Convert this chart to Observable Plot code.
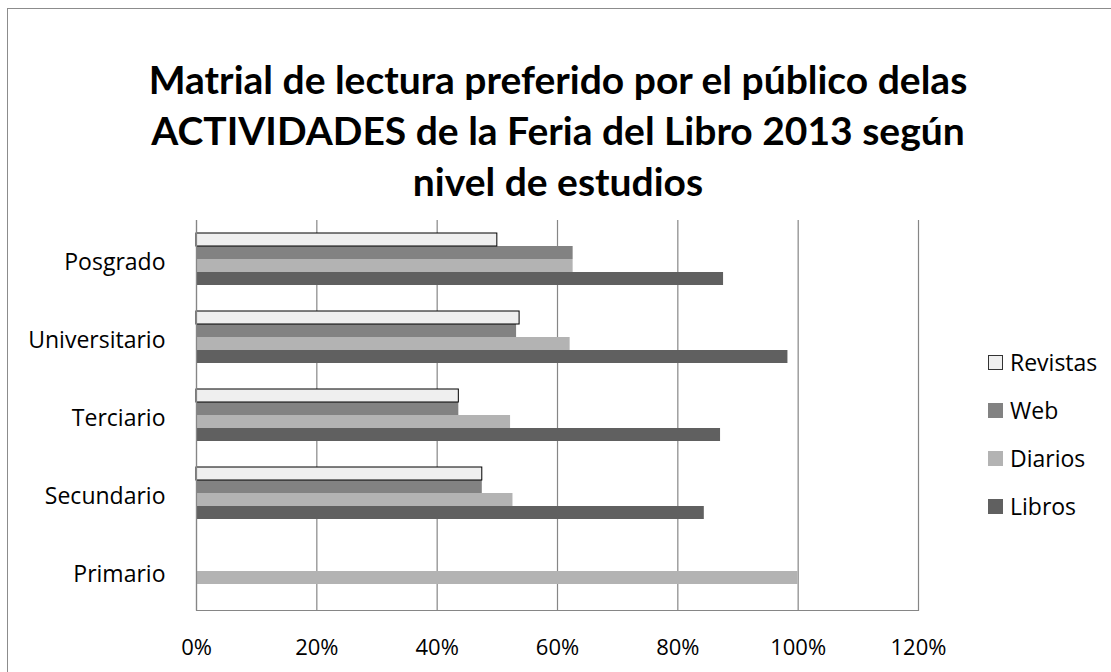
<!DOCTYPE html>
<html>
<head>
<meta charset="utf-8">
<script src="https://cdn.jsdelivr.net/npm/d3@7"></script>
<script src="https://cdn.jsdelivr.net/npm/@observablehq/plot@0.6"></script>
<style>
  html, body { margin: 0; padding: 0; background: #fff; }
  #wrap { position: relative; width: 1111px; height: 672px; overflow: hidden; background: #fff; }
  #border { position: absolute; left: 7px; top: 8px; width: 1200px; height: 800px; border: 1.5px solid #8c8c8c; box-sizing: border-box; }
  #title { position: absolute; left: 0; top: 54px; width: 1116px; text-align: center;
           font-family: Lato, sans-serif; font-weight: bold; font-size: 39px; line-height: 51px; color: #000; white-space: nowrap; }
  #chart { position: absolute; left: 0; top: 0; }
  #legend { position: absolute; left: 988px; top: 338px; font-family: "Open Sans", sans-serif; font-size: 23px; color: #000; }
  .item { display: flex; align-items: center; height: 48px; }
  .sw { width: 15px; height: 15px; margin-right: 7px; box-sizing: border-box; }
</style>
</head>
<body>
<div id="wrap">
  <div id="border"></div>
  <div id="title">Matrial de lectura preferido por el público delas<br>ACTIVIDADES de la Feria del Libro 2013 según<br>nivel de estudios</div>
  <div id="chart"></div>
  <div id="legend"></div>
</div>
<script>
const categories = ["Posgrado", "Universitario", "Terciario", "Secundario", "Primario"];
const series = ["Revistas", "Web", "Diarios", "Libros"];
const revistas = [50.0, 53.7, 43.6, 47.5, null];
const web      = [62.6, 53.2, 43.6, 47.5, null];
const diarios  = [62.6, 62.1, 52.2, 52.6, 100];
const libros   = [87.6, 98.3, 87.1, 84.4, null];
const xTicks = [0, 20, 40, 60, 80, 100, 120];
const colors = ["#efefef", "#828282", "#b3b3b3", "#606060"];

const valuesBySeries = [revistas, web, diarios, libros];
const rows = [];
categories.forEach((c, i) => {
  series.forEach((s, j) => {
    const v = valuesBySeries[j][i];
    if (v != null) rows.push({category: c, series: s, value: v});
  });
});

const fmt = d => d + "%";
const gridColor = "#868686";

const plot = Plot.plot({
  width: 1111,
  height: 672,
  marginLeft: 196,
  marginRight: 193,
  marginTop: 218,
  marginBottom: 60,
  style: {fontFamily: "'Open Sans', sans-serif", fontSize: "23px", color: "#000", background: "transparent"},
  x: {domain: [0, 120], ticks: xTicks, tickFormat: fmt, label: null},
  y: {domain: series, paddingInner: 0, paddingOuter: 0.8, axis: null},
  fy: {domain: categories, padding: 0, label: null},
  color: {domain: series, range: colors},
  marks: [
    Plot.gridX(xTicks, {stroke: gridColor, strokeOpacity: 1, strokeWidth: 1.2}),
    Plot.barX(rows, {x: "value", y: "series", fy: "category", fill: "series"}),
    Plot.barX(rows.filter(d => d.series === "Revistas"), {x: "value", y: "series", fy: "category", fill: "none", stroke: "#000", strokeWidth: 1}),
    Plot.ruleX([0], {stroke: gridColor, strokeWidth: 1.2}),
    Plot.frame({anchor: "bottom", facetAnchor: "bottom", stroke: gridColor, strokeWidth: 1.2}),
    Plot.axisX({ticks: xTicks, tickFormat: fmt, tickSize: 0, tickPadding: 29, label: null, fontSize: 22}),
    Plot.axisFy({anchor: "left", tickSize: 0, tickPadding: 31, dy: 3, label: null, fontSize: 23})
  ]
});
document.getElementById("chart").appendChild(plot);

const legend = document.getElementById("legend");
series.forEach((s, j) => {
  const item = document.createElement("div");
  item.className = "item";
  const sw = document.createElement("div");
  sw.className = "sw";
  sw.style.background = colors[j];
  if (s === "Revistas") sw.style.border = "1px solid #333";
  const t = document.createElement("span");
  t.textContent = s;
  item.appendChild(sw);
  item.appendChild(t);
  legend.appendChild(item);
});
</script>
</body>
</html>
